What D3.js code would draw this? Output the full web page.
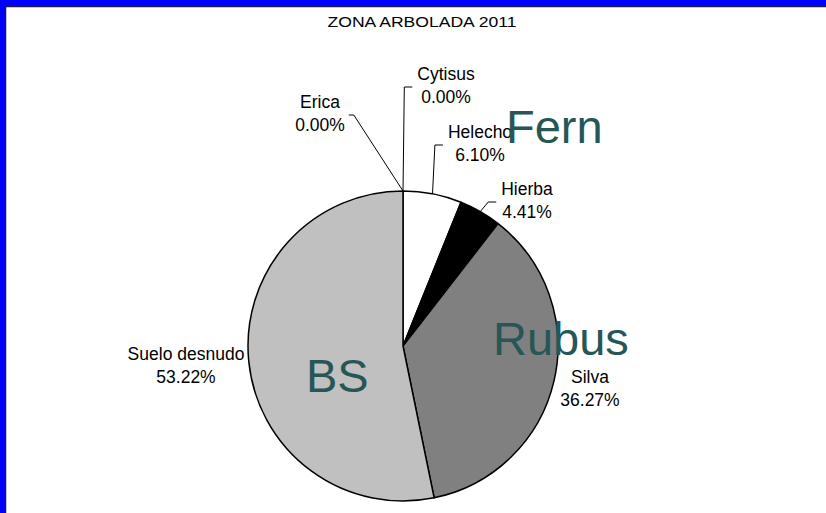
<!DOCTYPE html>
<html lang="es">
<head>
<meta charset="UTF-8">
<style>
  body, html { margin: 0; padding: 0; background: #fff; }
  svg { display: block; font-family: "Liberation Sans", Arial, sans-serif; }
</style>
</head>
<body>
<svg id="svg" width="826" height="513"></svg>
<script src="https://d3js.org/d3.v7.min.js"></script>
<script>
  // data
  const categories = ['Cytisus', 'Helecho', 'Hierba', 'Silva', 'Suelo desnudo', 'Erica']
  const values = [0.00, 6.10, 4.41, 36.27, 53.22, 0.00]
  const sliceColors = ['#ffffff', '#ffffff', '#000000', '#808080', '#c0c0c0', '#c0c0c0']
  const overlayTexts = ['Fern', 'Rubus', 'BS']
  const title = 'ZONA ARBOLADA 2011'

  const width = 826, height = 513
  const cx = 403, cy = 346, radius = 155

  // label centres relative to the pie centre (labels moved by hand in the original)
  const labelOffset = [[43, -259], [77, -201], [124, -144], [187, 44], [-217, 21], [-83, -231]]
  const withLeader = [true, true, true, false, false, true]
  // annotation text boxes: left x / baseline relative to the pie centre
  const overlayOffset = [[103, -203], [90, 9], [-97, 46]]

  const svg = d3.select('#svg')

  // window frame, only top and left edges are visible
  svg.append('rect').attr('width', width).attr('height', height).attr('fill', '#0000ff')
  svg.append('rect').attr('x', 6).attr('y', 7).attr('width', width).attr('height', height).attr('fill', '#fff')
  svg.append('line').attr('x1', 5.5).attr('x2', width).attr('y1', 6.5).attr('y2', 6.5)
    .attr('stroke', '#1c1c3c').attr('stroke-width', 1.5)
  svg.append('line').attr('x1', 5.5).attr('x2', 5.5).attr('y1', 6.5).attr('y2', height)
    .attr('stroke', '#1c1c3c').attr('stroke-width', 1.5)

  svg.append('text')
    .attr('x', 422).attr('y', 27)
    .attr('text-anchor', 'middle')
    .attr('font-size', 14)
    .attr('textLength', 189)
    .attr('lengthAdjust', 'spacingAndGlyphs')
    .text(title)

  const data = categories.map((c, i) => ({ name: c, value: values[i], color: sliceColors[i], i }))

  const pie = d3.pie().value(d => d.value).sort(null)
  const arc = d3.arc().innerRadius(0).outerRadius(radius)
  const arcs = pie(data)

  const g = svg.append('g').attr('transform', `translate(${cx}, ${cy})`)

  g.selectAll('path')
    .data(arcs.filter(d => d.data.value > 0))
    .enter()
    .append('path')
    .attr('d', arc)
    .attr('fill', d => d.data.color)
    .attr('stroke', '#000')
    .attr('stroke-width', 1.5)
    .attr('stroke-linejoin', 'round')

  // labels
  const fmt = d3.format('.2f')
  const labelG = g.append('g')
  arcs.forEach((d, i) => {
    const [lx, ly] = labelOffset[i]
    const t = labelG.append('text')
      .attr('text-anchor', 'middle')
      .attr('font-size', 17.5)
      .attr('fill', '#000')
    t.append('tspan').attr('x', lx).attr('y', ly - 7).text(d.data.name)
    t.append('tspan').attr('x', lx).attr('y', ly + 16).text(fmt(d.data.value) + '%')

    if (withLeader[i]) {
      const box = t.node().getBBox()
      const mid = (d.startAngle + d.endAngle) / 2
      const px = radius * Math.sin(mid), py = -radius * Math.cos(mid)
      const onRight = lx > px
      const ex = onRight ? box.x - 5 : box.x + box.width + 4
      const elbow = onRight ? ex - 8 : ex + 5
      labelG.append('path')
        .attr('d', d3.line()([[px, py], [elbow, ly], [ex, ly]]))
        .attr('fill', 'none')
        .attr('stroke', '#000')
        .attr('stroke-width', 1)
    }
  })

  // annotation text boxes on top
  overlayTexts.forEach((txt, i) => {
    g.append('text')
      .attr('x', overlayOffset[i][0])
      .attr('y', overlayOffset[i][1])
      .attr('font-size', 47)
      .attr('fill', '#265656')
      .text(txt)
  })
</script>
</body>
</html>
